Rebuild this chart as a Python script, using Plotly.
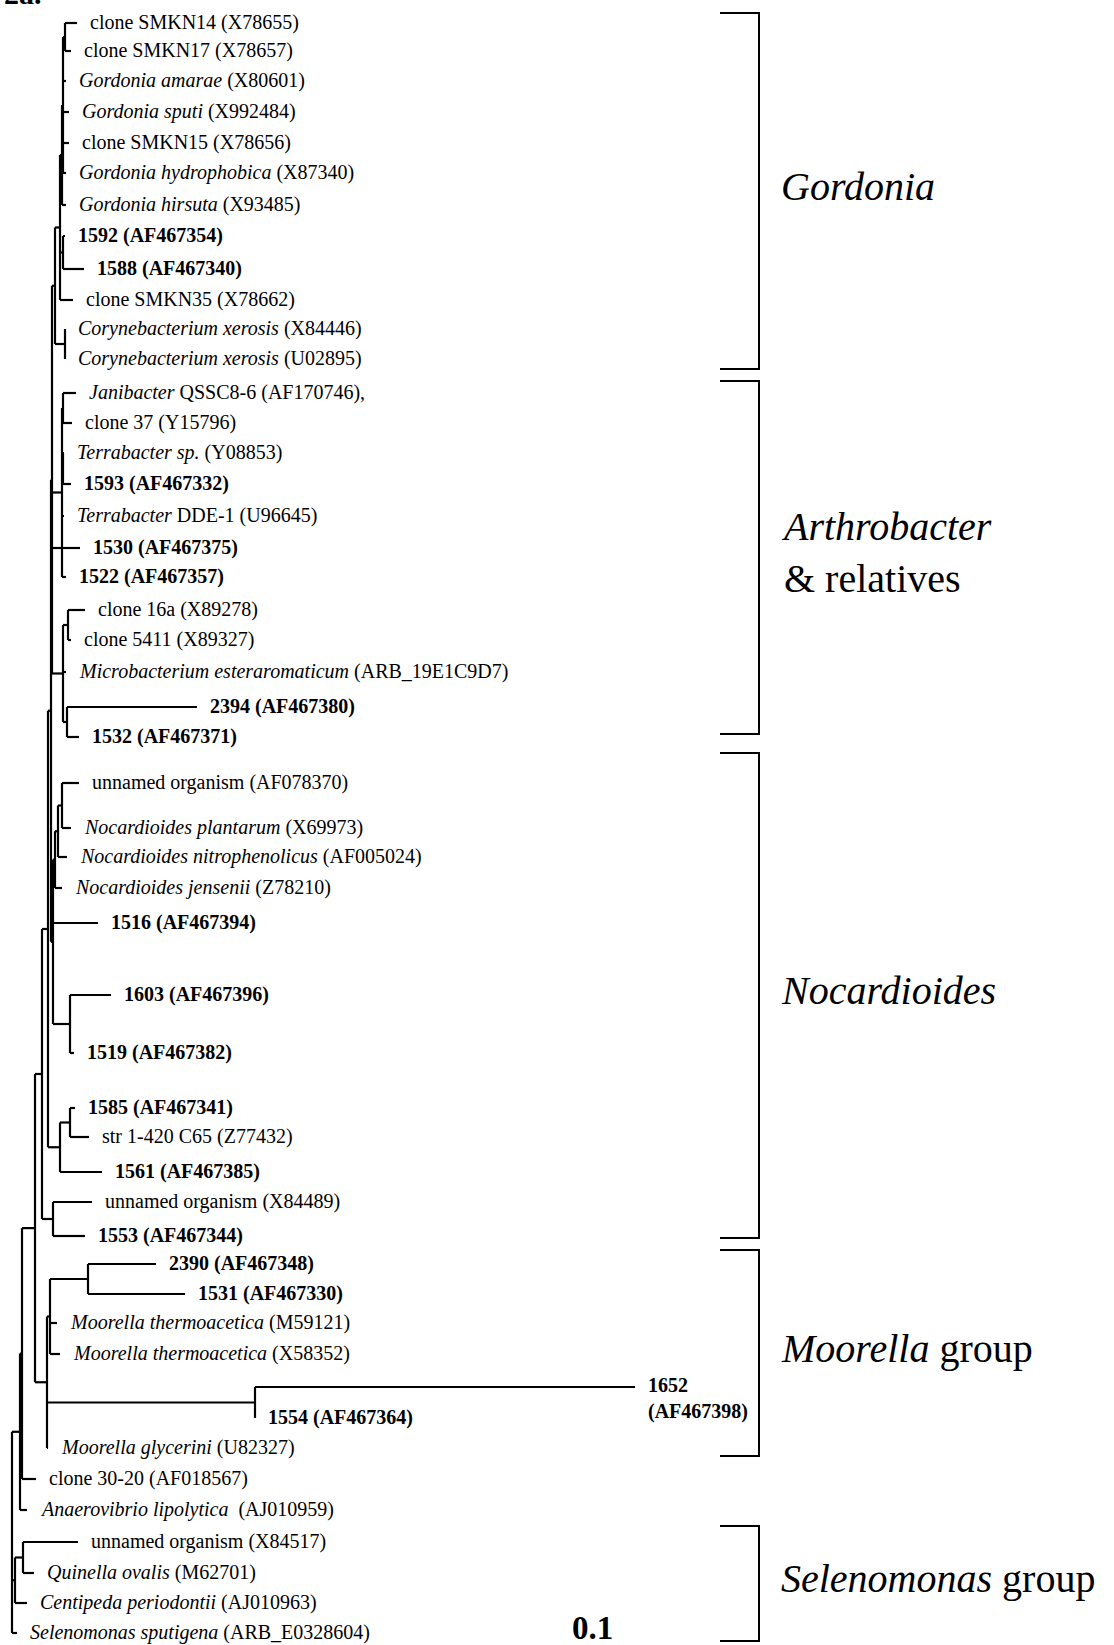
import plotly.graph_objects as go

# ---------------- data ----------------
leaf_labels = [
    "clone SMKN14 (X78655)", "clone SMKN17 (X78657)", "<i>Gordonia amarae</i> (X80601)",
    "<i>Gordonia sputi</i> (X992484)", "clone SMKN15 (X78656)", "<i>Gordonia hydrophobica</i> (X87340)",
    "<i>Gordonia hirsuta</i> (X93485)", "<b>1592 (AF467354)</b>", "<b>1588 (AF467340)</b>",
    "clone SMKN35 (X78662)", "<i>Corynebacterium xerosis</i> (X84446)", "<i>Corynebacterium xerosis</i> (U02895)",
    "<i>Janibacter</i> QSSC8-6 (AF170746),", "clone 37 (Y15796)", "<i>Terrabacter sp.</i> (Y08853)",
    "<b>1593 (AF467332)</b>", "<i>Terrabacter</i> DDE-1 (U96645)", "<b>1530 (AF467375)</b>",
    "<b>1522 (AF467357)</b>", "clone 16a (X89278)", "clone 5411 (X89327)",
    "<i>Microbacterium esteraromaticum</i> (ARB_19E1C9D7)", "<b>2394 (AF467380)</b>", "<b>1532 (AF467371)</b>",
    "unnamed organism (AF078370)", "<i>Nocardioides plantarum</i> (X69973)",
    "<i>Nocardioides nitrophenolicus</i> (AF005024)", "<i>Nocardioides jensenii</i> (Z78210)",
    "<b>1516 (AF467394)</b>", "<b>1603 (AF467396)</b>", "<b>1519 (AF467382)</b>",
    "<b>1585 (AF467341)</b>", "str 1-420 C65 (Z77432)", "<b>1561 (AF467385)</b>",
    "unnamed organism (X84489)", "<b>1553 (AF467344)</b>", "<b>2390 (AF467348)</b>",
    "<b>1531 (AF467330)</b>", "<i>Moorella thermoacetica</i> (M59121)", "<i>Moorella thermoacetica</i> (X58352)",
    "<b>1652<br>(AF467398)</b>", "<b>1554 (AF467364)</b>", "<i>Moorella glycerini</i> (U82327)",
    "clone 30-20 (AF018567)", "<i>Anaerovibrio lipolytica</i>  (AJ010959)", "unnamed organism (X84517)",
    "<i>Quinella ovalis</i> (M62701)", "<i>Centipeda periodontii</i> (AJ010963)",
    "<i>Selenomonas sputigena</i> (ARB_E0328604)",
]
leaf_rows = [23, 51, 81, 112, 143, 173, 205, 236, 269, 300, 329, 359,
             393, 423, 453, 484, 516, 548, 577, 610, 640, 672, 707, 737,
             783, 828, 857, 888, 923, 995, 1053,
             1108, 1137, 1172, 1202, 1236,
             1264, 1294, 1323, 1354, 1387, 1418, 1448,
             1479, 1510, 1542, 1573, 1603, 1633]
leaf_depth = [77, 71, 66, 69, 69, 66, 66, 65, 84, 73, 65, 65,
              76, 72, 64, 71, 64, 80, 66, 85, 71, 66, 197, 79,
              79, 71, 67, 62, 98, 111, 74,
              75, 89, 102, 92, 85,
              156, 185, 57, 60, 635, 255, 48,
              36, 27, 78, 34, 27, 17]
leaf_parent = ["g14", "g14", "gA1", "gA1", "gA1", "gA1", "gA", "g92", "g92", "gM", "cx", "cx",
               "j1", "j1", "j2", "j2", "J", "E1", "J", "m1", "m1", "M0", "m2", "m2",
               "n1", "n1", "n2", "n3", "E3", "n16", "n16",
               "g85", "g85", "G", "F", "F",
               "n90", "n90", "mo1", "mo1", "n54", "n54", "Mo",
               "U1", "U", "s2", "s2", "s1", "R"]

node_names = ["R", "U", "U1", "A", "B", "D", "E", "E1", "gc", "gM", "gA", "gA1", "g14", "g92", "cx",
              "J", "j1", "j2", "M0", "m1", "m2", "E3", "n3", "n2", "n1", "n16", "G", "g85", "F",
              "Mo", "mo1", "n90", "n54", "s1", "s2"]
node_depth = [12, 20, 22, 35, 42, 48, 51, 52, 55, 60, 62, 63, 65, 63, 65,
              62, 63, 63, 63, 68, 67, 53, 55, 58, 62, 70, 60, 70, 53,
              47, 50, 88, 255, 15, 23]
node_parent = [None, "R", "U", "U1", "A", "B", "D", "E", "E1", "gc", "gM", "gA", "gA1", "gM", "gc",
               "E1", "J", "J", "E1", "M0", "M0", "E", "E3", "n3", "n2", "E3", "D", "G", "B",
               "A", "Mo", "mo1", "Mo", "R", "s1"]

group_labels = ["<i>Gordonia</i>", "<i>Arthrobacter</i><br>&amp; relatives", "<i>Nocardioides</i>",
                "<i>Moorella</i> group", "<i>Selenomonas</i> group"]
group_top = [13, 381, 753, 1250, 1526]
group_bottom = [369, 734, 1238, 1456, 1641]

scale_label = "0.1"
panel_label = "2a."

# ---------------- layout of tree ----------------
W, H = 1114, 1645
FONT = "Liberation Serif"

depth = dict(zip(node_names, node_depth))
children = {n: [] for n in node_names}
for i, p in enumerate(leaf_parent):
    children[p].append(("leaf", i))
for n, p in zip(node_names, node_parent):
    if p is not None:
        children[p].append(("node", n))

ypos = {}


def node_y(n):
    if n in ypos:
        return ypos[n]
    ys = []
    for kind, c in children[n]:
        ys.append(leaf_rows[c] if kind == "leaf" else node_y(c))
    ypos[n] = (min(ys) + max(ys)) / 2.0
    return ypos[n]


for n in node_names:
    node_y(n)

xs, ys = [], []
for n in node_names:
    cys = []
    for kind, c in children[n]:
        cy = leaf_rows[c] if kind == "leaf" else ypos[c]
        cx = leaf_depth[c] if kind == "leaf" else depth[c]
        cys.append(cy)
        if cx > depth[n]:
            xs += [depth[n], cx, None]
            ys += [cy, cy, None]
    xs += [depth[n], depth[n], None]
    ys += [min(cys), max(cys), None]

fig = go.Figure()
fig.add_trace(go.Scatter(x=xs, y=ys, mode="lines",
                         line=dict(color="black", width=2.2),
                         hoverinfo="skip", showlegend=False))

# group brackets
bx0, bx1 = 720, 759
bxs, bys = [], []
for t, b in zip(group_top, group_bottom):
    bxs += [bx0, bx1, bx1, bx0, None]
    bys += [t, t, b, b, None]
fig.add_trace(go.Scatter(x=bxs, y=bys, mode="lines",
                         line=dict(color="black", width=2),
                         hoverinfo="skip", showlegend=False))

annotations = []
GAP = 11
for lab, r, d in zip(leaf_labels, leaf_rows, leaf_depth):
    yy = r
    if "<br>" in lab:
        yy = r + 12
    annotations.append(dict(x=d + GAP, y=yy - 1, text=lab, showarrow=False,
                            xanchor="left", yanchor="middle", align="left",
                            font=dict(family=FONT, size=20, color="black")))

for lab, t, b in zip(group_labels, group_top, group_bottom):
    annotations.append(dict(x=bx1 + 20, y=(t + b) / 2 - 5, text=lab, showarrow=False,
                            xanchor="left", yanchor="middle", align="left",
                            font=dict(family=FONT, size=40, color="black")))

annotations.append(dict(x=592, y=1628, text="<b>" + scale_label + "</b>", showarrow=False,
                        xanchor="center", yanchor="middle",
                        font=dict(family=FONT, size=33, color="black")))
annotations.append(dict(x=2, y=12, text="<b>" + panel_label + "</b>", showarrow=False,
                        xanchor="left", yanchor="bottom",
                        font=dict(family=FONT, size=30, color="black")))

fig.update_layout(
    width=W, height=H,
    margin=dict(l=0, r=0, t=0, b=0),
    paper_bgcolor="white", plot_bgcolor="white",
    xaxis=dict(range=[0, W], visible=False, fixedrange=True),
    yaxis=dict(range=[H, 0], visible=False, fixedrange=True),
    annotations=annotations,
    showlegend=False,
)

fig.write_html("out.html", config={"displayModeBar": False},
               post_script="document.body.style.margin='0';document.body.style.padding='0';"
                           "document.body.style.overflow='hidden';")
